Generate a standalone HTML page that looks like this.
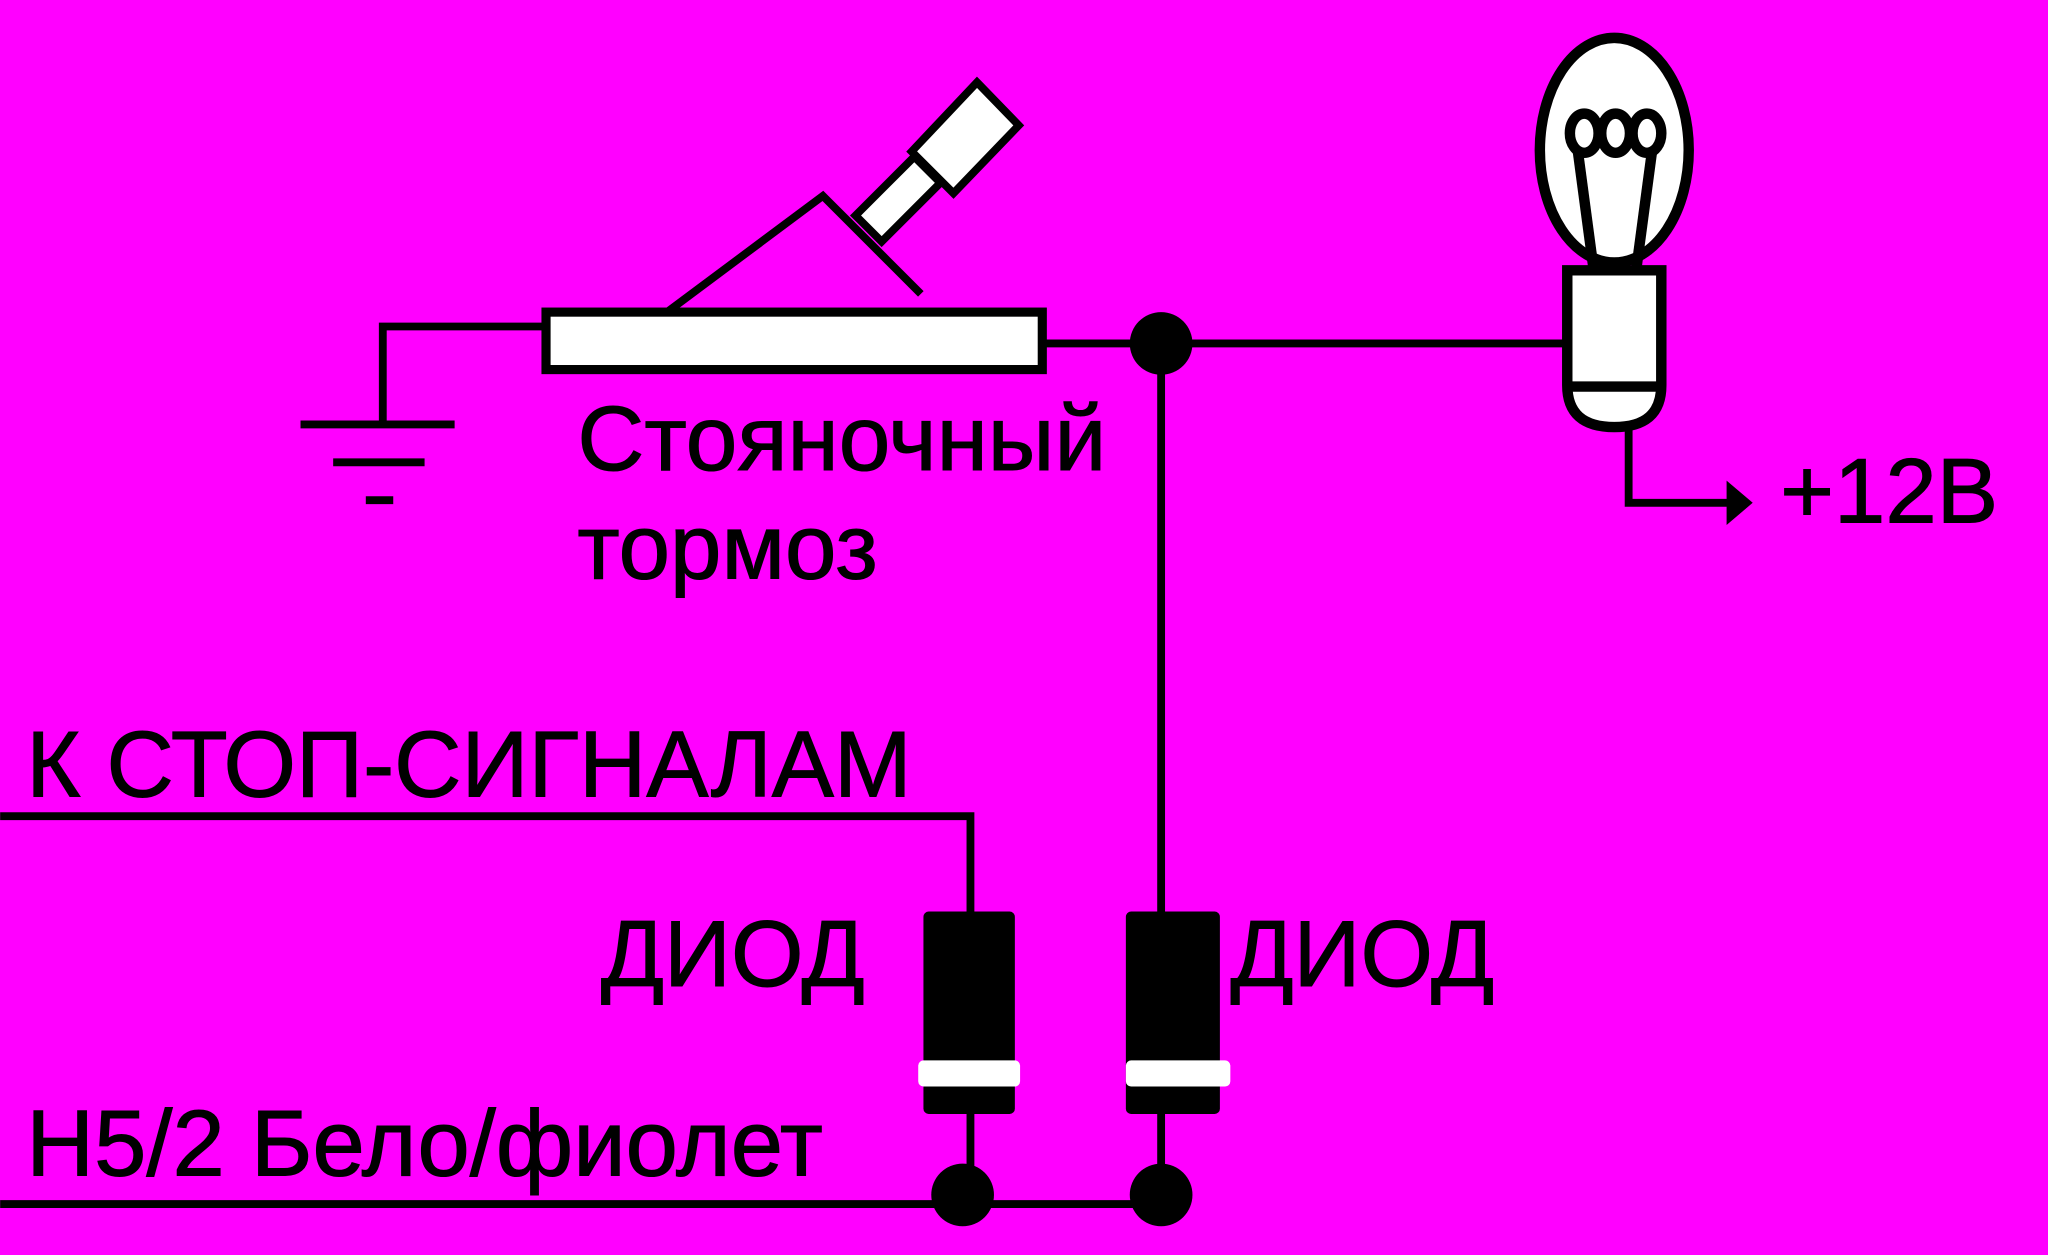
<!DOCTYPE html>
<html><head><meta charset="utf-8"><style>
html,body{margin:0;padding:0;background:#f0f;}
svg{display:block}
text{font-family:"Liberation Sans",sans-serif;fill:#000;stroke:#000;stroke-width:0.8}
</style></head><body>
<svg width="2048" height="1255" viewBox="0 0 1568 961" xmlns="http://www.w3.org/2000/svg">
<rect width="1568" height="961" fill="#f0f"/>
<g stroke="#000" stroke-width="6" fill="none">
<polyline points="418,250 293,250 293,325"/>
<line x1="230" y1="325" x2="348" y2="325"/>
<line x1="255" y1="354" x2="325" y2="354"/>
<line x1="280" y1="383" x2="301" y2="383"/>
<rect x="418" y="239" width="380" height="44" fill="#fff" stroke-width="7"/>
<polyline points="512,238 630,150 705,225"/>
<polygon points="655,165 700,120 720,140 675,185" fill="#fff"/>
<polygon points="748,63 780,96 730,148 698,116" fill="#fff"/>
<line x1="798" y1="263" x2="1200" y2="263"/>
<line x1="889" y1="263" x2="889" y2="915"/>
<polyline points="0,625 743,625 743,700"/>
<line x1="743" y1="850" x2="743" y2="915"/>
<line x1="0" y1="922" x2="889" y2="922"/>
<polyline points="1247,325 1247,385 1325,385"/>
</g>
<polygon points="1322,368 1342,385 1322,402" fill="#000"/>
<circle cx="889" cy="263" r="24" fill="#000"/>
<circle cx="737" cy="915" r="24" fill="#000"/>
<circle cx="889" cy="915" r="24" fill="#000"/>
<rect x="707" y="698" width="70" height="155" rx="4" fill="#000"/>
<rect x="703" y="812" width="78" height="20" rx="4" fill="#fff"/>
<rect x="862" y="698" width="72" height="155" rx="4" fill="#000"/>
<rect x="862" y="812" width="80" height="20" rx="4" fill="#fff"/>
<g stroke="#000" stroke-width="8" fill="#fff">
<ellipse cx="1236" cy="115" rx="57" ry="86"/>
<path d="M1200,207 L1272,207 L1272,295 Q1272,327 1236,327 Q1200,327 1200,295 Z"/>
</g>
<line x1="1200" y1="296" x2="1272" y2="296" stroke="#000" stroke-width="8"/>
<g stroke="#000" stroke-width="8" fill="none">
<path d="M1208,115 L1220,205"/>
<path d="M1265,115 L1253,205"/>
<ellipse cx="1213" cy="102" rx="11" ry="15"/>
<ellipse cx="1237" cy="102" rx="11" ry="15"/>
<ellipse cx="1261" cy="102" rx="11" ry="15"/>
</g>
<text x="442" y="360" font-size="70" textLength="405" lengthAdjust="spacingAndGlyphs">Стояночный</text>
<text x="442" y="443" font-size="70" textLength="230" lengthAdjust="spacingAndGlyphs">тормоз</text>
<text x="1363" y="400" font-size="70" textLength="167" lengthAdjust="spacingAndGlyphs">+12В</text>
<text x="20" y="610" font-size="72" textLength="678" lengthAdjust="spacingAndGlyphs">К СТОП-СИГНАЛАМ</text>
<text x="460" y="755" font-size="72" textLength="202" lengthAdjust="spacingAndGlyphs">ДИОД</text>
<text x="942" y="755" font-size="72" textLength="202" lengthAdjust="spacingAndGlyphs">ДИОД</text>
<text x="20" y="900" font-size="72" textLength="610" lengthAdjust="spacingAndGlyphs">Н5/2 Бело/фиолет</text>
</svg>
</body></html>
